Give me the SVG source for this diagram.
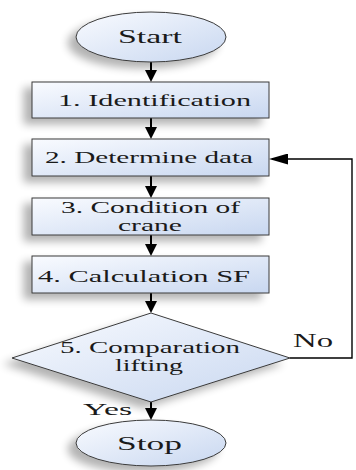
<svg xmlns="http://www.w3.org/2000/svg" width="356" height="470" viewBox="0 0 356 470">
<defs>
<linearGradient id="fillg" x1="0" y1="0" x2="1" y2="1">
<stop offset="0" stop-color="#f9fbff"/>
<stop offset="1" stop-color="#c8d7f0"/>
</linearGradient>
<filter id="sh" x="-30%" y="-30%" width="160%" height="180%">
<feGaussianBlur in="SourceAlpha" stdDeviation="4"/>
<feOffset dx="-8" dy="6" result="b"/>
<feComponentTransfer><feFuncA type="linear" slope="0.3"/></feComponentTransfer>
<feMerge><feMergeNode/><feMergeNode in="SourceGraphic"/></feMerge>
</filter>
<marker id="ah" viewBox="0 0 12 12" refX="8" refY="6" markerWidth="12" markerHeight="12" markerUnits="userSpaceOnUse" orient="auto">
<path d="M0,0 L12,6 L0,12 z" fill="#000"/>
</marker>
<marker id="ah2" viewBox="0 0 19 11" refX="16" refY="5.5" markerWidth="19" markerHeight="11" markerUnits="userSpaceOnUse" orient="auto">
<path d="M0,0 L19,5.5 L0,11 z" fill="#000"/>
</marker>
</defs>
<style>
.n{fill:url(#fillg);stroke:#3a3a3a;stroke-width:1;filter:url(#sh)}
text{font-family:'Liberation Serif','Times New Roman','DejaVu Serif',serif;font-size:16px;fill:#1a1a1a}
.big{font-size:19px}
.c{fill:none;stroke:#000;stroke-width:2}
.f{fill:none;stroke:#000;stroke-width:1.4}
</style>
<rect width="356" height="470" fill="#fff"/>
<g id="connectors">
<line class="c" x1="151" y1="62" x2="151" y2="78" marker-end="url(#ah)"/>
<line class="c" x1="151" y1="118" x2="151" y2="135" marker-end="url(#ah)"/>
<line class="c" x1="151" y1="176" x2="151" y2="194" marker-end="url(#ah)"/>
<line class="c" x1="151" y1="235" x2="151" y2="252" marker-end="url(#ah)"/>
<line class="c" x1="151" y1="293" x2="151" y2="309" marker-end="url(#ah)"/>
<line class="c" x1="151" y1="402" x2="151" y2="416" marker-end="url(#ah)"/>
<polyline class="f" points="290,358 352,358 352,159 272,159" marker-end="url(#ah2)"/>
<text x="293" y="347" textLength="40" lengthAdjust="spacingAndGlyphs" style="font-size:18px">No</text>
<text x="83" y="415" textLength="49" lengthAdjust="spacingAndGlyphs" style="font-size:17px">Yes</text>
</g>
<g id="start">
<ellipse class="n" cx="151" cy="37" rx="75" ry="25"/>
<text class="big" x="118" y="43" textLength="64" lengthAdjust="spacingAndGlyphs">Start</text>
</g>
<g id="step1">
<rect class="n" x="32" y="82" width="237" height="36"/>
<text x="58" y="106" textLength="193" lengthAdjust="spacingAndGlyphs">1. Identification</text>
</g>
<g id="step2">
<rect class="n" x="32" y="139" width="237" height="37"/>
<text x="45" y="163" textLength="208" lengthAdjust="spacingAndGlyphs">2. Determine data</text>
</g>
<g id="step3">
<rect class="n" x="32" y="198" width="237" height="37"/>
<text x="61" y="213" textLength="179" lengthAdjust="spacingAndGlyphs">3. Condition of</text>
<text x="118" y="231" textLength="64" lengthAdjust="spacingAndGlyphs">crane</text>
</g>
<g id="step4">
<rect class="n" x="32" y="256" width="237" height="37"/>
<text x="38" y="282" textLength="212" lengthAdjust="spacingAndGlyphs">4. Calculation SF</text>
</g>
<g id="step5">
<polygon class="n" points="151,313 290,358 151,402 12,358"/>
<text x="60" y="353" textLength="180" lengthAdjust="spacingAndGlyphs">5. Comparation</text>
<text x="115" y="371" textLength="68" lengthAdjust="spacingAndGlyphs">lifting</text>
</g>
<g id="stop">
<ellipse class="n" cx="151" cy="443" rx="75" ry="23"/>
<text class="big" x="117" y="450" textLength="65" lengthAdjust="spacingAndGlyphs">Stop</text>
</g>
</svg>
